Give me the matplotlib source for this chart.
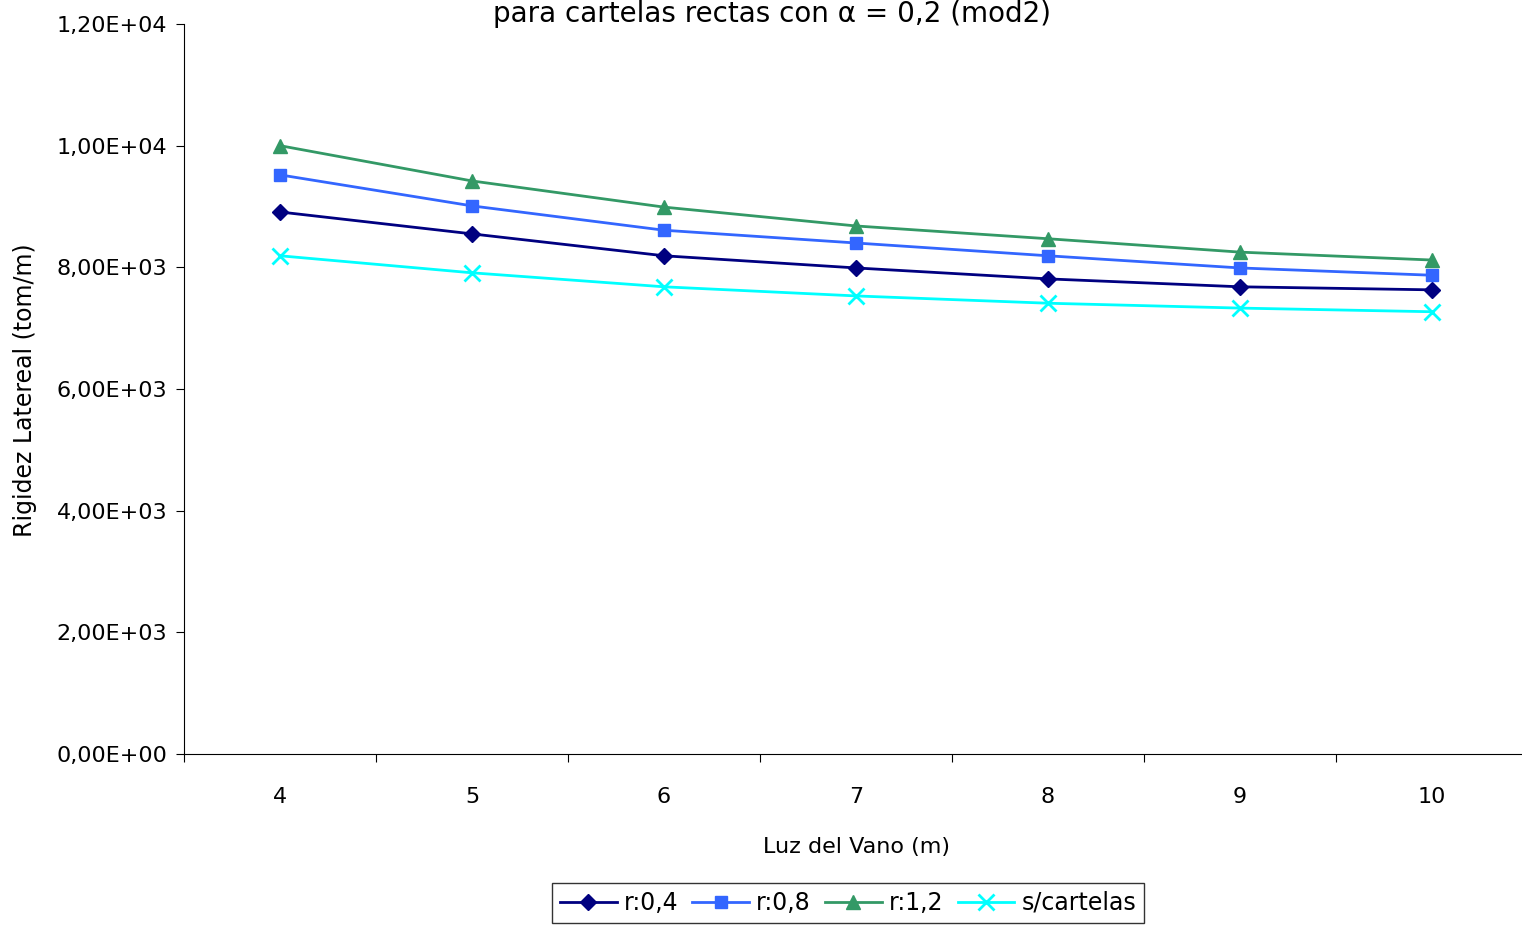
import numpy as np
import matplotlib.pyplot as plt
from matplotlib.ticker import FuncFormatter, FixedLocator

luz = [4, 5, 6, 7, 8, 9, 10]
r04 = [8910, 8550, 8190, 7990, 7810, 7680, 7630]
r08 = [9520, 9010, 8610, 8400, 8190, 7990, 7870]
r12 = [10000, 9420, 8990, 8680, 8470, 8250, 8120]
s_cart = [8190, 7910, 7680, 7530, 7410, 7330, 7270]

plt.rcParams['font.family'] = ['DejaVu Sans']

fig = plt.figure(figsize=(15.22, 9.25), dpi=100)
# plot area is cut at the right edge of the picture, as in the original
ax = fig.add_axes([184/1522, 1-754/925, 1344/1522, 730/925])

ax.plot(luz, r04, color='#000080', marker='D', markersize=8, lw=2, label='r:0,4')
ax.plot(luz, r08, color='#3366FF', marker='s', markersize=9, lw=2, label='r:0,8')
ax.plot(luz, r12, color='#339966', marker='^', markersize=10, lw=2, label='r:1,2')
ax.plot(luz, s_cart, color='#00FFFF', marker='x', markersize=11, mew=2, lw=2, label='s/cartelas')

ax.set_xlim(3.5, 10.5)
ax.set_ylim(0, 12000)
ax.set_yticks(np.arange(0, 12001, 2000))

def fmt(v, pos):
    s = '%.2E' % v
    return s.replace('.', ',')
ax.yaxis.set_major_formatter(FuncFormatter(fmt))

ax.xaxis.set_major_locator(FixedLocator(np.arange(3.5, 11, 1)))
ax.xaxis.set_minor_locator(FixedLocator(luz))
ax.xaxis.set_major_formatter(FuncFormatter(lambda v, p: ''))
ax.set_xticklabels([str(v) for v in luz], minor=True)
ax.tick_params(axis='x', which='minor', length=0, pad=24, labelsize=16)
ax.tick_params(axis='x', which='major', length=6, direction='out')
ax.tick_params(axis='y', length=6, direction='out', labelsize=16, pad=6)

for s in ['top', 'right']:
    ax.spines[s].set_visible(False)

ax.set_xlabel('Luz del Vano (m)', fontsize=16, labelpad=21)
fig.text(25/1522, 1-390/925, 'Rigidez Latereal (tom/m)', rotation=90,
         fontsize=17, ha='center', va='center')
fig.text(772/1522, 1.0, 'para cartelas rectas con α = 0,2 (mod2)',
         fontsize=20, ha='center', va='top')

leg = fig.legend(loc='center', bbox_to_anchor=(848/1522, 1-903/925), ncol=4,
                 fontsize=17, frameon=True, fancybox=False, edgecolor='black',
                 handlelength=2.4, handletextpad=0.3, columnspacing=0.6,
                 borderpad=0.35)
leg.get_frame().set_linewidth(1)

fig.savefig('out.png', dpi=100)
